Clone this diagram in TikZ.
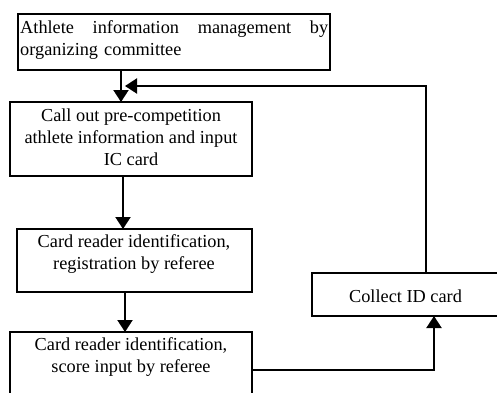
\documentclass[tikz,border=0pt]{standalone}
\usepackage{fontspec}
\setmainfont{Liberation Serif}
\usetikzlibrary{arrows.meta}

\tikzset{
  box/.style={draw, line width=1.8pt, inner sep=0pt, outer sep=0pt,
              anchor=north west, minimum width=#1},
  label text/.style={inner sep=0pt, font=\fontsize{18.3}{21.8}\selectfont},
  flow/.style={line width=2.1pt, -{Triangle[length=12pt,width=15pt]}}
}

\begin{document}
\begin{tikzpicture}[x=1pt,y=-1pt]
  \useasboundingbox (0,0) rectangle (497,392);
  \clip (0,0) rectangle (497,392);

  % process boxes
  \node[box=312, minimum height=56] (b1) at (18,14) {};
  \node[box=242, minimum height=74] (b2) at (10,102) {};
  \node[box=235, minimum height=63] (b3) at (17,229) {};
  \node[box=242, minimum height=70] (b4) at (10,332) {};
  \node[box=187, minimum height=43] (col) at (312,273) {};

  % box texts
  \node[label text, anchor=north west, align=left, text width=308pt] (t1) at (20,20.5)
    {Athlete\hfill information\hfill management\hfill by\\organizing committee};
  \node[label text, anchor=north, align=center] (t2) at (131,108.5)
    {Call out pre-competition\\athlete information and input\\IC card};
  \node[label text, anchor=north, align=center] (t3) at (134,234.5)
    {Card reader identification,\\registration by referee};
  \node[label text, anchor=north, align=center] (t4) at (131,337.5)
    {Card reader identification,\\score input by referee};
  \node[label text, anchor=base] (t5) at (405.5,302) {Collect ID card};

  % connector columns and rows
  \coordinate (x1) at (121,0);
  \coordinate (x2) at (123,0);
  \coordinate (x3) at (125,0);
  \coordinate (x4) at (434,0);
  \coordinate (x5) at (426,0);
  \coordinate (y4) at (0,370);
  \coordinate (fb) at (125,86);

  % main flow
  \draw[flow] (b1.south -| x1) -- (b2.north -| x1);
  \draw[flow] (b2.south -| x2) -- (b3.north -| x2);
  \draw[flow] (b3.south -| x3) -- (b4.north -| x3);
  \draw[flow] (b4.east |- y4) -| (col.south -| x4);

  % return path to the call-out step
  \draw[flow] (col.north -| x5) |- (fb);
\end{tikzpicture}
\end{document}
